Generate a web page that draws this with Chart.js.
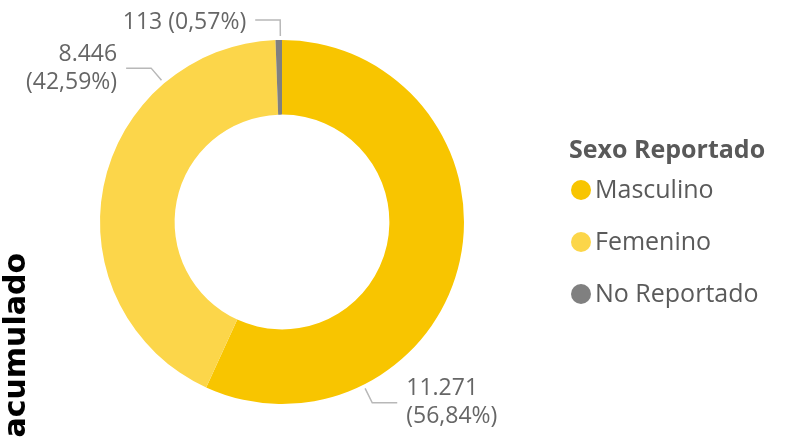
<!DOCTYPE html>
<html>
<head>
<meta charset="utf-8">
<script src="https://cdn.jsdelivr.net/npm/chart.js@4.4.1/dist/chart.umd.min.js"></script>
<style>
  html, body { margin: 0; padding: 0; background: #fff; overflow: hidden; }
  #wrap { width: 796px; height: 437px; position: relative; }
</style>
</head>
<body>
<div id="wrap"><canvas id="myChart"></canvas></div>
<script>
const categorias = ['Masculino', 'Femenino', 'No Reportado'];
const casos = [11271, 8446, 113];
const colores = ['#F8C500', '#FCD64A', '#808080'];
const tituloLeyenda = 'Sexo Reportado';
const tituloEje = 'acumulado';

const FUENTE = '"Open Sans", "Noto Sans", sans-serif';

function miles(n) {
    return String(n).replace(/\B(?=(\d{3})+(?!\d))/g, '.');
}
function porcentaje(v, total) {
    return (v / total * 100).toFixed(2).replace('.', ',') + '%';
}

// etiquetas con linea guia
const etiquetas = {
    id: 'etiquetas',
    afterDatasetsDraw(chart, args, opts) {
        const ctx = chart.ctx;
        const data = chart.data.datasets[0].data;
        const total = data.reduce((a, b) => a + b, 0);
        chart.getDatasetMeta(0).data.forEach((arc, i) => {
            const p = arc.getProps(['x', 'y', 'startAngle', 'endAngle', 'outerRadius'], true);
            const ang = p.startAngle + opts.posicion * (p.endAngle - p.startAngle);
            const cos = Math.cos(ang), sin = Math.sin(ang);
            const x1 = p.x + cos * (p.outerRadius + 4), y1 = p.y + sin * (p.outerRadius + 4);
            const x2 = p.x + cos * (p.outerRadius + 20), y2 = p.y + sin * (p.outerRadius + 20);
            const dir = cos >= 0 ? 1 : -1;
            const x3 = x2 + dir * 25;

            ctx.save();
            ctx.strokeStyle = '#B8B8B8';
            ctx.lineWidth = 1.5;
            ctx.beginPath();
            ctx.moveTo(x1, y1);
            ctx.lineTo(x2, y2);
            ctx.lineTo(x3, y2);
            ctx.stroke();

            ctx.fillStyle = '#666666';
            ctx.font = '23px ' + FUENTE;
            ctx.textBaseline = 'middle';
            ctx.textAlign = dir > 0 ? 'left' : 'right';
            const tx = x3 + dir * 9;
            const v = miles(data[i]);
            const pc = '(' + porcentaje(data[i], total) + ')';
            if (opts.dosLineas[i]) {
                ctx.fillText(v, tx, y2 - 14);
                ctx.fillText(pc, tx, y2 + 14);
            } else {
                ctx.fillText(v + ' ' + pc, tx, y2 + 2);
            }
            ctx.restore();
        });
    }
};

// leyenda y titulo de eje recortado
const decoracion = {
    id: 'decoracion',
    afterDraw(chart) {
        const ctx = chart.ctx;
        const ds = chart.data.datasets[0];
        ctx.save();
        ctx.textBaseline = 'middle';
        ctx.textAlign = 'left';
        ctx.fillStyle = '#595959';
        ctx.font = 'bold 25px ' + FUENTE;
        ctx.fillText(tituloLeyenda, 569, 151);

        ctx.font = '25px ' + FUENTE;
        chart.data.labels.forEach((lab, i) => {
            const cy = 190 + i * 52;
            ctx.fillStyle = ds.backgroundColor[i];
            ctx.beginPath();
            ctx.arc(581, cy, 10, 0, Math.PI * 2);
            ctx.fill();
            ctx.fillStyle = '#5a5a5a';
            ctx.fillText(lab, 595, cy + 1);
        });

        ctx.translate(25, 253);
        ctx.rotate(-Math.PI / 2);
        ctx.fillStyle = '#000';
        ctx.font = 'bold 30px "DejaVu Sans", sans-serif';
        ctx.textAlign = 'right';
        ctx.textBaseline = 'alphabetic';
        ctx.fillText(tituloEje, 0, 0);
        ctx.restore();
    }
};

new Chart(document.getElementById('myChart'), {
    type: 'doughnut',
    data: {
        labels: categorias,
        datasets: [{
            data: casos,
            backgroundColor: colores,
            borderWidth: 0
        }]
    },
    options: {
        responsive: true,
        maintainAspectRatio: false,
        animation: false,
        events: [],
        cutout: '59%',
        layout: { padding: { top: 40, bottom: 33, left: 0, right: 232 } },
        plugins: {
            legend: { display: false },
            tooltip: { enabled: false },
            etiquetas: { posicion: 0.75, dosLineas: [true, true, false] }
        }
    },
    plugins: [etiquetas, decoracion]
});
</script>
</body>
</html>
